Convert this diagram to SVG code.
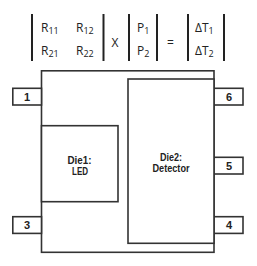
<svg xmlns="http://www.w3.org/2000/svg" width="257" height="266" viewBox="0 0 257 266">
<style>
.bar{stroke:#222;stroke-width:2;fill:none}
.box{stroke:#333;stroke-width:1.6;fill:#fff}
.m{font-family:"Open Sans","Liberation Sans",sans-serif;font-size:12px;fill:#222}
.s{font-size:9px}
.lbl{font-family:"Liberation Sans",Arial,sans-serif;font-weight:bold;font-size:11px;fill:#222;text-anchor:middle}
</style>
<g id="equation">
<line class="bar" x1="32" y1="14" x2="32" y2="61"/>
<line class="bar" x1="103.5" y1="14" x2="103.5" y2="61"/>
<line class="bar" x1="129" y1="14" x2="129" y2="61"/>
<line class="bar" x1="157" y1="14" x2="157" y2="61"/>
<line class="bar" x1="188" y1="14" x2="188" y2="61"/>
<line class="bar" x1="224" y1="14" x2="224" y2="61"/>
<text class="m" x="41" y="32">R<tspan class="s" dy="2">11</tspan></text>
<text class="m" x="76" y="32">R<tspan class="s" dy="2">12</tspan></text>
<text class="m" x="41" y="55">R<tspan class="s" dy="2">21</tspan></text>
<text class="m" x="76" y="55">R<tspan class="s" dy="2">22</tspan></text>
<text class="m" x="111.5" y="47">X</text>
<text class="m" x="137" y="32">P<tspan class="s" dy="2">1</tspan></text>
<text class="m" x="137" y="55">P<tspan class="s" dy="2">2</tspan></text>
<text class="m" x="167" y="47">=</text>
<text class="m" x="195" y="32">ΔT<tspan class="s" dy="2">1</tspan></text>
<text class="m" x="195" y="55">ΔT<tspan class="s" dy="2">2</tspan></text>
</g>
<g id="package">
<rect class="box" x="41.5" y="70.8" width="172.5" height="181.5"/>
</g>
<g id="pin1"><rect class="box" x="12.8" y="88.3" width="28.7" height="16.7"/><text class="lbl" x="27" y="100.5">1</text></g>
<g id="pin3"><rect class="box" x="12.8" y="216.7" width="28.7" height="16.7"/><text class="lbl" x="27" y="229">3</text></g>
<g id="pin6"><rect class="box" x="214" y="88.3" width="29" height="16.7"/><text class="lbl" x="229" y="100.5">6</text></g>
<g id="pin5"><rect class="box" x="214" y="157.3" width="29" height="16.7"/><text class="lbl" x="229" y="169.8">5</text></g>
<g id="pin4"><rect class="box" x="214" y="216.7" width="29" height="16.7"/><text class="lbl" x="229" y="229">4</text></g>
<g id="die1">
<rect class="box" x="41.5" y="125.7" width="76.5" height="76"/>
<text class="lbl" x="79.5" y="163.5" textLength="24" lengthAdjust="spacingAndGlyphs">Die1:</text>
<text class="lbl" x="80" y="175" textLength="16" lengthAdjust="spacingAndGlyphs">LED</text>
</g>
<g id="die2">
<rect class="box" x="128" y="79" width="86" height="164.3"/>
<text class="lbl" x="171" y="161" textLength="22" lengthAdjust="spacingAndGlyphs">Die2:</text>
<text class="lbl" x="171" y="172" textLength="37" lengthAdjust="spacingAndGlyphs">Detector</text>
</g>
<g id="connectors"/>
</svg>
